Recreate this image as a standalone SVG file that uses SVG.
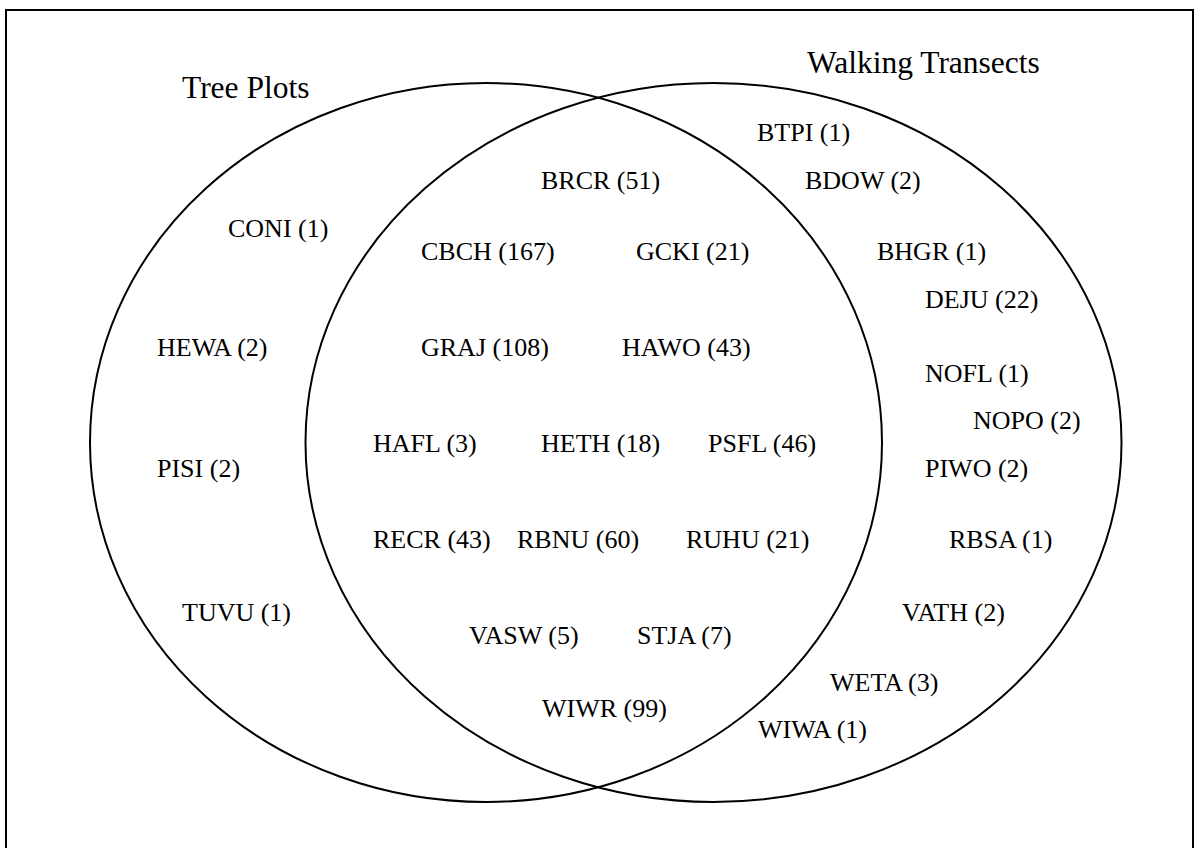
<svg xmlns="http://www.w3.org/2000/svg" width="1194" height="848" viewBox="0 0 1194 848">
<style>
.set{fill:none;stroke:#000;stroke-width:2}
.lbl{font-family:"Liberation Serif","Times New Roman",serif;font-size:26px;fill:#000}
.ttl{font-family:"Liberation Serif","Times New Roman",serif;font-size:31.5px;fill:#000}
</style>
<rect x="0" y="0" width="1194" height="848" fill="#fff"/>
<rect id="frame" x="6" y="10" width="1187" height="900" fill="none" stroke="#000" stroke-width="2"/>
<g id="sets">
<g id="tree-plots"><ellipse class="set" cx="486" cy="442.5" rx="396" ry="359.5"/><text class="ttl" x="182" y="98">Tree Plots</text></g>
<g id="walking-transects"><ellipse class="set" cx="713.5" cy="442.5" rx="408" ry="359.5"/><text class="ttl" x="807" y="73">Walking Transects</text></g>
</g>
<g id="connectors"></g>
<g id="tree-only">
<g id="CONI"><text class="lbl" x="228" y="237">CONI (1)</text></g>
<g id="HEWA"><text class="lbl" x="157" y="356">HEWA (2)</text></g>
<g id="PISI"><text class="lbl" x="157" y="477">PISI (2)</text></g>
<g id="TUVU"><text class="lbl" x="182" y="621">TUVU (1)</text></g>
</g>
<g id="both">
<g id="BRCR"><text class="lbl" x="541" y="189">BRCR (51)</text></g>
<g id="CBCH"><text class="lbl" x="421" y="260">CBCH (167)</text></g>
<g id="GCKI"><text class="lbl" x="636" y="260">GCKI (21)</text></g>
<g id="GRAJ"><text class="lbl" x="421" y="356">GRAJ (108)</text></g>
<g id="HAWO"><text class="lbl" x="622" y="356">HAWO (43)</text></g>
<g id="HAFL"><text class="lbl" x="373" y="452">HAFL (3)</text></g>
<g id="HETH"><text class="lbl" x="541" y="452">HETH (18)</text></g>
<g id="PSFL"><text class="lbl" x="708" y="452">PSFL (46)</text></g>
<g id="RECR"><text class="lbl" x="373" y="548">RECR (43)</text></g>
<g id="RBNU"><text class="lbl" x="517" y="548">RBNU (60)</text></g>
<g id="RUHU"><text class="lbl" x="686" y="548">RUHU (21)</text></g>
<g id="VASW"><text class="lbl" x="469" y="644">VASW (5)</text></g>
<g id="STJA"><text class="lbl" x="637" y="644">STJA (7)</text></g>
<g id="WIWR"><text class="lbl" x="542" y="717">WIWR (99)</text></g>
</g>
<g id="walk-only">
<g id="BTPI"><text class="lbl" x="757" y="141">BTPI (1)</text></g>
<g id="BDOW"><text class="lbl" x="805" y="189">BDOW (2)</text></g>
<g id="BHGR"><text class="lbl" x="877" y="260">BHGR (1)</text></g>
<g id="DEJU"><text class="lbl" x="925" y="308">DEJU (22)</text></g>
<g id="NOFL"><text class="lbl" x="925" y="382">NOFL (1)</text></g>
<g id="NOPO"><text class="lbl" x="973" y="429">NOPO (2)</text></g>
<g id="PIWO"><text class="lbl" x="925" y="477">PIWO (2)</text></g>
<g id="RBSA"><text class="lbl" x="949" y="548">RBSA (1)</text></g>
<g id="VATH"><text class="lbl" x="902" y="621">VATH (2)</text></g>
<g id="WETA"><text class="lbl" x="830" y="691">WETA (3)</text></g>
<g id="WIWA"><text class="lbl" x="758" y="738">WIWA (1)</text></g>
</g>
</svg>
